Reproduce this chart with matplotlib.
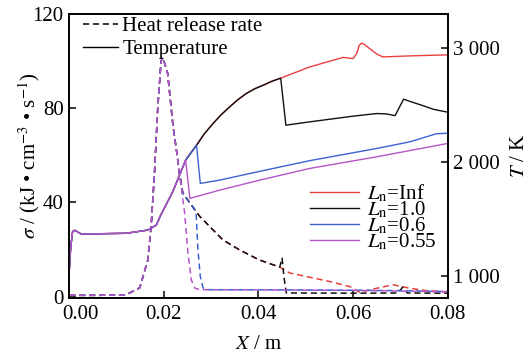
import matplotlib
matplotlib.use("Agg")
import matplotlib.pyplot as plt
from matplotlib.lines import Line2D
from matplotlib.transforms import ScaledTranslation

# ---- data ----
# temperature (K), right axis
x_T_inf = [0.0, 0.0003, 0.0007, 0.0012, 0.0025, 0.0060, 0.0120, 0.0166, 0.0184, 0.0193, 0.0219,
           0.0246, 0.0269, 0.0286, 0.0304, 0.0321, 0.0339, 0.0356, 0.0374, 0.0392, 0.0410,
           0.0428, 0.0447, 0.0508, 0.0579, 0.0600,
           0.0608, 0.0613, 0.0618, 0.0625, 0.0635, 0.0650, 0.0663, 0.0720, 0.0800]
T_inf = [1050, 1250, 1390, 1400, 1368, 1370, 1374, 1402, 1446, 1530, 1740,
         2015, 2146, 2248, 2336, 2412, 2481, 2543, 2598, 2640, 2671,
         2705, 2733, 2831, 2915, 2904,
         2950, 3020, 3040, 3025, 2992, 2945, 2919, 2928, 2937]

x_T_10 = [0.0, 0.0003, 0.0007, 0.0012, 0.0025, 0.0060, 0.0120, 0.0166, 0.0184, 0.0193, 0.0219,
          0.0246, 0.0269, 0.0286, 0.0304, 0.0321, 0.0339, 0.0356, 0.0374, 0.0392, 0.0410,
          0.0428, 0.0447, 0.0458, 0.0508, 0.0600,
          0.0650, 0.0670, 0.0689, 0.0697, 0.0707, 0.0720, 0.0745, 0.0770, 0.0800]
T_10 = [1050, 1250, 1390, 1400, 1368, 1370, 1374, 1402, 1446, 1530, 1740,
        2015, 2146, 2248, 2336, 2412, 2481, 2543, 2598, 2640, 2671,
        2705, 2733, 2321, 2350, 2400,
        2423, 2420, 2405, 2470, 2549, 2530, 2496, 2460, 2435]

x_T_06 = [0.0, 0.0003, 0.0007, 0.0012, 0.0025, 0.0060, 0.0120, 0.0166, 0.0184, 0.0193, 0.0219,
          0.0246, 0.0269, 0.0277, 0.0318, 0.0403, 0.0508, 0.0650, 0.0720, 0.0776, 0.0800]
T_06 = [1050, 1250, 1390, 1400, 1368, 1370, 1374, 1402, 1446, 1530, 1740,
        2015, 2146, 1811, 1840, 1917, 2010, 2117, 2175, 2246, 2250]

x_T_055 = [0.0, 0.0003, 0.0007, 0.0012, 0.0025, 0.0060, 0.0120, 0.0166, 0.0184, 0.0193, 0.0219,
           0.0246, 0.0255, 0.0318, 0.0403, 0.0508, 0.0650, 0.0800]
T_055 = [1050, 1250, 1390, 1400, 1368, 1370, 1374, 1402, 1446, 1530, 1740,
         2015, 1680, 1752, 1840, 1942, 2044, 2161]

# heat release rate sigma, left axis
x_q_inf = [0.0, 0.0060, 0.0120, 0.0149, 0.0166, 0.0173, 0.0180, 0.0187, 0.0194, 0.0198,
           0.0208, 0.0219, 0.0226, 0.0233, 0.0240, 0.0254, 0.0276, 0.0325, 0.0360, 0.0402,
           0.0445, 0.0466, 0.0515, 0.0550, 0.0593, 0.0614, 0.0650, 0.0685, 0.0720, 0.0755, 0.0800]
q_inf = [0.5, 0.5, 0.7, 3.7, 15.5, 29.7, 52, 80, 100, 101.5,
         94.7, 73, 63, 52.3, 44, 40, 34, 24, 19.8, 15.5,
         12.5, 10, 7.9, 6.4, 4.2, 1.8, 3.5, 5.0, 3.5, 2.5, 2.0]

x_q_10 = [0.0, 0.0060, 0.0120, 0.0149, 0.0166, 0.0173, 0.0180, 0.0187, 0.0194, 0.0198,
          0.0208, 0.0219, 0.0226, 0.0233, 0.0240, 0.0254, 0.0276, 0.0325, 0.0360, 0.0402,
          0.0445, 0.0450, 0.0454, 0.0459, 0.0600, 0.0695, 0.0705, 0.0715, 0.0800]
q_10 = [0.5, 0.5, 0.7, 3.7, 15.5, 29.7, 52, 80, 100, 101.5,
        94.7, 73, 63, 52.3, 44, 40, 34, 24, 19.8, 15.5,
        12.5, 16.3, 8, 1.5, 1.4, 1.5, 4, 1.5, 1.4]

x_q_06 = [0.0, 0.0060, 0.0120, 0.0149, 0.0166, 0.0173, 0.0180, 0.0187, 0.0194, 0.0198,
          0.0208, 0.0219, 0.0226, 0.0233, 0.0240, 0.0254, 0.0268, 0.0272, 0.0277, 0.0283,
          0.0295, 0.0500, 0.0700, 0.0800]
q_06 = [0.5, 0.5, 0.7, 3.7, 15.5, 29.7, 52, 80, 100, 101.5,
        94.7, 73, 63, 52.3, 44, 40, 36, 19.8, 8.5, 3.6,
        2.9, 2.8, 2.5, 2.1]

x_q_055 = [0.0, 0.0060, 0.0120, 0.0149, 0.0166, 0.0173, 0.0180, 0.0187, 0.0194, 0.0198,
           0.0208, 0.0219, 0.0226, 0.0233, 0.0244, 0.0251, 0.0258, 0.0265, 0.0276, 0.0400,
           0.0600, 0.0800]
q_055 = [0.5, 0.5, 0.7, 3.7, 15.5, 29.7, 52, 80, 100, 101.5,
         94.7, 73, 63, 52.3, 35.3, 18.4, 7.1, 3.6, 2.9, 2.8,
         2.6, 2.0]

labels = [r"$L_\mathrm{n}$=Inf", r"$L_\mathrm{n}$=1.0", r"$L_\mathrm{n}$=0.6", r"$L_\mathrm{n}$=0.55"]
colors = ["#e8403f", "#111111", "#3d62d0", "#b455c8"]

x_ticks = [0.0, 0.02, 0.04, 0.06, 0.08]
x_tick_labels = ["0.00", "0.02", "0.04", "0.06", "0.08"]
q_ticks = [0, 40, 80, 120]
T_ticks = [1000, 2000, 3000]
T_tick_labels = ["1 000", "2 000", "3 000"]

plt.rcParams["font.family"] = ["Liberation Serif", "DejaVu Serif"]
plt.rcParams["mathtext.fontset"] = "stix"
plt.rcParams["font.size"] = 15

fig = plt.figure(figsize=(5.31, 3.56), dpi=100)
ax = fig.add_axes([0.1305, 0.1638, 0.7125, 0.7969])
ax2 = ax.twinx()

dash = (0, (4, 2.5))
q_series = [(x_q_inf, q_inf), (x_q_10, q_10), (x_q_06, q_06), (x_q_055, q_055)]
T_series = [(x_T_inf, T_inf), (x_T_10, T_10), (x_T_06, T_06), (x_T_055, T_055)]
for (xs, ys), c in zip(q_series, colors):
    ax.plot(xs, ys, color=c, lw=1.1, linestyle=dash)
for (xs, ys), c in zip(T_series, colors):
    ax2.plot(xs, ys, color=c, lw=1.0)

ax.set_xlim(0, 0.08)
ax.set_ylim(-0.5, 120)
ax2.set_ylim(810, 3295)

ax.set_xticks(x_ticks)
ax.set_xticklabels(x_tick_labels)
ax.set_yticks(q_ticks)
ax2.set_yticks(T_ticks)
ax2.set_yticklabels(T_tick_labels)

for a in (ax, ax2):
    a.tick_params(direction="in", length=5, width=1.1, labelsize=15)
    for s in a.spines.values():
        s.set_linewidth(1.2)
ax.tick_params(axis="x", pad=5)
ax.tick_params(axis="y", pad=4)
ax2.tick_params(axis="y", pad=4)

# the 0.00 label sits a bit right of its tick in the reference
lbl0 = ax.get_xticklabels()[0]
lbl0.set_transform(lbl0.get_transform() + ScaledTranslation(0.11, 0, fig.dpi_scale_trans))

ax.set_xlabel(r"$X$ / m")
ax.xaxis.set_label_coords(0.5, -0.13)
ax.set_ylabel(r"$\sigma$ / (kJ • cm$^{-3}$ • s$^{-1}$)")
ax.yaxis.set_label_coords(-0.072, 0.5)
ax2.set_ylabel(r"$T$ / K", rotation=90)
ax2.yaxis.set_label_coords(1.165, 0.5)

h1 = [Line2D([], [], color="k", lw=1.1, linestyle=dash), Line2D([], [], color="k", lw=1.0)]
leg1 = ax2.legend(h1, ["Heat release rate", "Temperature"], loc="upper left",
                  bbox_to_anchor=(0.036, 0.992), frameon=False, borderpad=0, borderaxespad=0,
                  handlelength=1.7, handletextpad=0.2, labelspacing=0.19)
ax2.add_artist(leg1)
h2 = [Line2D([], [], color=c, lw=1.0) for c in colors]
ax2.legend(h2, labels, loc="upper left", bbox_to_anchor=(0.636, 0.407), frameon=False,
           borderpad=0, borderaxespad=0, handlelength=2.35, handletextpad=0.38,
           labelspacing=-0.22)

fig.savefig("out.png", dpi=100)
